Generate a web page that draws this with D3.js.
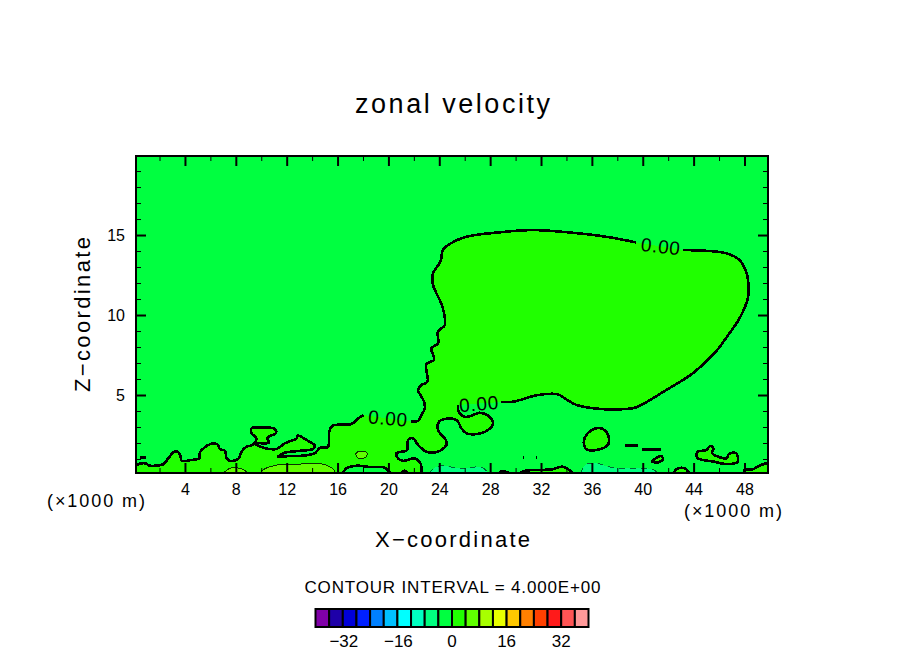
<![CDATA[<!DOCTYPE html>
<html><head><meta charset="utf-8"><style>html,body{margin:0;background:#fff}svg{display:block}text{font-family:"Liberation Sans";fill:#000}</style>
<script src="https://cdn.jsdelivr.net/npm/d3@7/dist/d3.min.js"></script></head><body>
<script>
const xDomain=[0.15,49.85], zDomain=[0.125,19.94];
const xMajor=[4,8,12,16,20,24,28,32,36,40,44,48];
const xMinor=[2,6,10,14,18,22,26,30,34,38,42,46];
const zMajor=[5,10,15];
const zMinor=[1,2,3,4,6,7,8,9,11,12,13,14,16,17,18,19];
const barLevels=[-40,-36,-32,-28,-24,-20,-16,-12,-8,-4,0,4,8,12,16,20,24,28,32,36,40];
const barColors=["#8000a8","#1e00a8","#0000d8","#0020ff","#0080ff","#00c0ff","#00ffff","#00ffc0","#00ff80","#00ff40","#20ff00","#60ff00","#a8ff00","#e8ff00","#ffc800","#ff8000","#ff4000","#ff1a1a","#ff5555","#ff9999"];
const barTicks=[-32,-16,0,16,32];
// level-0 contour, split where its labels interrupt it
const zeroA=[[0.15,0.6],[0.2,0.63],[0.6,0.73],[0.86,0.73],[1.25,0.58],[1.64,0.58],[2.29,0.67],[2.69,1.04],[3.16,1.46],[3.47,1.42],[3.66,1.14],[3.74,0.89],[4.53,0.94],[5.12,1.04],[5.18,1.42],[5.96,1.92],[6.54,1.92],[6.75,1.61],[7.14,1.52],[7.28,1.04],[7.54,0.89],[8.19,1],[8.45,1.46],[8.85,1.77],[9.32,1.88],[9.63,2.29],[9.24,2.61],[9.24,2.92],[9.76,2.98],[11.07,2.88],[11.15,2.61],[10.47,2.33],[10.62,2.02],[9.5,1.98],[10.15,1.71],[11.2,1.63],[11.86,1.98],[12.78,2.29],[12.88,2.46],[13.56,2.19],[14.21,1.83],[14.08,1.63],[12.88,1.5],[11.78,1.38],[11.33,1.14],[12.25,1.19],[13.04,1.19],[14.21,1.36],[14.61,1.69],[15.24,1.75],[15.34,2.71],[15.6,3.08],[17.1,3.19],[17.62,3.54],[18.06,3.75]];
const zeroB=[[21.81,3.33],[22.33,3.38],[22.6,3.75],[22.86,4.17],[22.8,4.58],[22.52,5],[22.33,5.31],[22.6,5.63],[23.07,5.83],[22.99,6.94],[23.59,7.19],[23.38,7.92],[23.9,8.23],[23.9,8.96],[24.43,9.38],[24.25,10.52],[23.51,11.88],[23.51,12.61],[24.09,13.33],[24.29,14.06],[24.82,14.44],[26.13,14.89],[28.75,15.17],[31.37,15.31],[34.51,15.14],[37.13,14.89],[39.49,14.54]];
const zeroC=[[43.15,14.06],[46.56,13.86],[47.61,13.44],[48.13,12.71],[48.31,11.98],[48.26,11.04],[47.61,9.79],[46.82,8.86],[45.64,7.61],[43.94,6.36],[41.85,5.31],[39.49,4.23],[38.7,4.13],[36.61,4.13],[34.78,4.38],[33.86,4.79],[33.33,5.04],[31.76,5],[29.8,4.58],[28.83,4.56]];
const zeroD=[[25.47,4.38],[25.53,3.96],[26,3.64],[26.53,3.71],[27.18,3.89],[27.83,3.71],[28.22,3.23],[27.83,2.81],[26.92,2.56],[26.13,2.61],[25.74,2.92],[25.35,3.44],[24.43,3.5],[23.98,3.33],[23.9,2.81],[24.51,2.19],[24.56,1.88],[23.9,1.46],[22.99,1.46],[22.33,1.88],[21.94,2.29],[21.54,2.19],[21.47,1.56],[20.63,1.36],[20.76,1.04],[21.15,0.88],[22.07,1.04],[22.52,0.73],[22.6,0.125]];
const zeroClose=[[0.15,0.125]];
// small closed or wall-bounded level-0 contours
const positiveIslands=[
 [[35.35,2.08],[35.56,2.5],[36.35,2.92],[37,2.81],[37.34,2.29],[37.26,1.88],[36.35,1.56],[35.56,1.61],[35.35,2.08]],
 [[40.67,0.83],[41.45,1.19],[41.58,0.98],[41.19,0.79],[40.67,0.83]],
 [[44.2,1.25],[44.33,1.46],[44.99,1.56],[45.31,1.81],[45.56,1.67],[45.46,1.36],[46.17,1.08],[46.61,1.04],[46.77,1.31],[47.35,1.36],[47.47,0.83],[47.21,0.73],[46.42,0.69],[45.64,0.83],[44.72,0.94],[44.33,1.04],[44.2,1.25]],
 [[38.57,1.86],[39.59,1.86]],
 [[39.96,1.6],[41.4,1.6]],
 [[0.46,1.11],[0.91,1.11]],
 [[30.58,1.11],[30.67,1.11]],[[31.63,1.11],[31.72,1.11]],
 [[28.67,0.125],[28.98,0.25],[29.38,0.16],[29.54,0.125]],
 [[30.4,0.125],[30.46,0.17],[30.85,0.28],[31.89,0.31],[32.91,0.36],[33.72,0.52],[34.38,0.21],[34.49,0.125]],
 [[42.45,0.125],[42.5,0.21],[42.68,0.38],[43.28,0.42],[43.59,0.21],[43.65,0.125]],
 [[48,0.125],[48,0.31],[48.65,0.36],[49.18,0.58],[49.7,0.73],[49.85,0.75],[49.85,0.125]]
];
const negativeHoles=[
 [[16.4,0.125],[16.44,0.17],[16.7,0.42],[17.49,0.58],[18.54,0.5],[19.71,0.46],[20.1,0.17],[20.15,0.125]],
 [[21.05,0.125],[21.29,0.28],[21.52,0.125]]
];
const level4Areas=[
 [[6.98,0.125],[7.14,0.21],[7.54,0.42],[8.32,0.42],[8.85,0.21],[8.95,0.125]],
 [[9.95,0.125],[10.03,0.25],[10.68,0.52],[11.99,0.67],[12.25,0.63],[13.82,0.73],[14.87,0.67],[15.65,0.38],[15.79,0.17],[15.82,0.125]],
 [[17.41,1.29],[17.62,1.46],[18.22,1.46],[18.35,1.29],[18.14,1.08],[17.62,1.04],[17.41,1.29]]
];
const levelMinus4Areas=[
 [[23.2,0.125],[23.25,0.17],[23.51,0.38],[24.04,0.56],[25.08,0.48],[25.87,0.38],[26.65,0.48],[27.31,0.5],[27.83,0.17],[27.9,0.125]],
 [[35.12,0.125],[35.17,0.21],[35.48,0.63],[36.35,0.73],[37.26,0.52],[38.18,0.42],[39.75,0.42],[40.8,0.36],[41.06,0.21],[41.12,0.125]]
];
const contourLabels=[{t:"0.00",x:19.95,z:3.55,a:5},{t:"0.00",x:41.4,z:14.3,a:7},{t:"0.00",x:27.1,z:4.45,a:-5}];

const svg=d3.select("body").append("svg").attr("width",904).attr("height",654);
const x=d3.scaleLinear().domain(xDomain).range([136,768]);
const z=d3.scaleLinear().domain(zDomain).range([473,156]);
const bar=d3.scaleLinear().domain([-40,40]).range([315.5,588.5]);
const color=v=>barColors[barLevels.indexOf(v)];
const line=d3.line().x(d=>x(d[0])).y(d=>z(d[1])).curve(d3.curveCatmullRom.alpha(0.5));
svg.append("clipPath").attr("id","pc").append("rect").attr("x",136).attr("y",156).attr("width",632).attr("height",317);
const plot=svg.append("g").attr("clip-path","url(#pc)").attr("shape-rendering","crispEdges");
plot.append("rect").attr("x",x(xDomain[0])).attr("y",z(zDomain[1])).attr("width",x(xDomain[1])-x(xDomain[0])).attr("height",z(zDomain[0])-z(zDomain[1])).attr("fill",color(-4));
const zeroFill=[...zeroA,...zeroB,...zeroC,...zeroD,...zeroClose];
plot.append("path").attr("d",d3.line().x(d=>x(d[0])).y(d=>z(d[1]))(zeroFill)+"Z").attr("fill",color(0));
plot.selectAll(".pi").data(positiveIslands).join("path").attr("d",d=>line(d)+"Z").attr("fill",color(0));
plot.selectAll(".nh").data(negativeHoles).join("path").attr("d",d=>line(d)+"Z").attr("fill",color(-4));
plot.selectAll(".l4").data(level4Areas).join("path").attr("d",d=>line(d)+"Z").attr("fill",color(4));
plot.selectAll(".m4").data(levelMinus4Areas).join("path").attr("d",d=>line(d)+"Z").attr("fill",color(-8));
const heavy=[zeroA,zeroB,zeroC,zeroD,...positiveIslands,...negativeHoles];
plot.selectAll(".hv").data(heavy).join("path").attr("d",line).attr("fill","none").attr("stroke","#000").attr("stroke-width",2.6).attr("stroke-linejoin","round");
plot.selectAll(".th").data(level4Areas).join("path").attr("d",line).attr("fill","none").attr("stroke","#0a3300").attr("stroke-width",1);
plot.selectAll(".da").data(levelMinus4Areas).join("path").attr("d",line).attr("fill","none").attr("stroke","#063").attr("stroke-width",1).attr("stroke-dasharray","6 5");
svg.selectAll(".lb").data(contourLabels).join("text").text(d=>d.t)
 .attr("x",d=>x(d.x)).attr("y",d=>z(d.z)).attr("transform",d=>`rotate(${d.a},${x(d.x)},${z(d.z)})`).attr("text-anchor","middle").attr("dy","0.36em").attr("font-size",19).attr("textLength",39).attr("lengthAdjust","spacing");

function axis(gen,tx,ty,vals,size,labelled,pad){
 const g=svg.append("g").attr("transform",`translate(${tx},${ty})`).call(gen(vals,size,labelled,pad));
 g.select(".domain").remove();
 g.selectAll("line").attr("stroke","#000").attr("stroke-width",size>6?2:1);
 if(labelled) g.selectAll("text").attr("font-size",16).attr("font-family","Liberation Sans").attr("fill","#000");
 else g.selectAll("text").remove();
}
const mk=(ctor,s)=>(vals,size,labelled,pad)=>ctor(s).tickValues(vals).tickSizeInner(-size).tickSizeOuter(0).tickPadding(pad).tickFormat(labelled?d3.format("d"):"");
for(const [major,minor,ctorA,ctorB,s,a,b] of [[xMajor,xMinor,d3.axisBottom,d3.axisTop,x,[0,473],[0,156]],[zMajor,zMinor,d3.axisLeft,d3.axisRight,z,[136,0],[768,0]]]){
 axis(mk(ctorA,s),a[0],a[1],major,10,true,11);
 axis(mk(ctorA,s),a[0],a[1],minor,5,false,0);
 axis(mk(ctorB,s),b[0],b[1],major,10,false,0);
 axis(mk(ctorB,s),b[0],b[1],minor,5,false,0);
}
svg.append("rect").attr("x",136).attr("y",156).attr("width",632).attr("height",317).attr("fill","none").attr("stroke","#000").attr("stroke-width",2);

function label(t,px,py,size,len,angle){
 const n=svg.append("text").text(t).attr("x",px).attr("y",py).attr("text-anchor","middle").attr("font-size",size).attr("textLength",len).attr("lengthAdjust","spacing");
 if(angle) n.attr("transform",`rotate(${angle},${px},${py})`);
}
label("zonal velocity",452.5,113,27,195);
label("X\u2212coordinate",452.5,547,22,155);
label("Z\u2212coordinate",90,314.5,22,155,-90);
label("(\u00d71000 m)",96,507,18,98);
label("(\u00d71000 m)",733,517,18,98);
label("CONTOUR INTERVAL = 4.000E+00",452.5,593,17,296);

const cells=barColors.map((c,i)=>({c,a:barLevels[i],b:barLevels[i+1]}));
svg.selectAll(".cell").data(cells).join("rect").attr("x",d=>bar(d.a)).attr("y",609).attr("width",d=>bar(d.b)-bar(d.a)).attr("height",18).attr("fill",d=>d.c).attr("stroke","#000").attr("stroke-width",2);
svg.selectAll(".bt").data(barTicks).join("text").text(d=>d<0?"\u2212"+(-d):d).attr("x",d=>bar(d)+(d<0?1:0)).attr("y",647).attr("text-anchor","middle").attr("font-size",17);
</script></body></html>]]>
